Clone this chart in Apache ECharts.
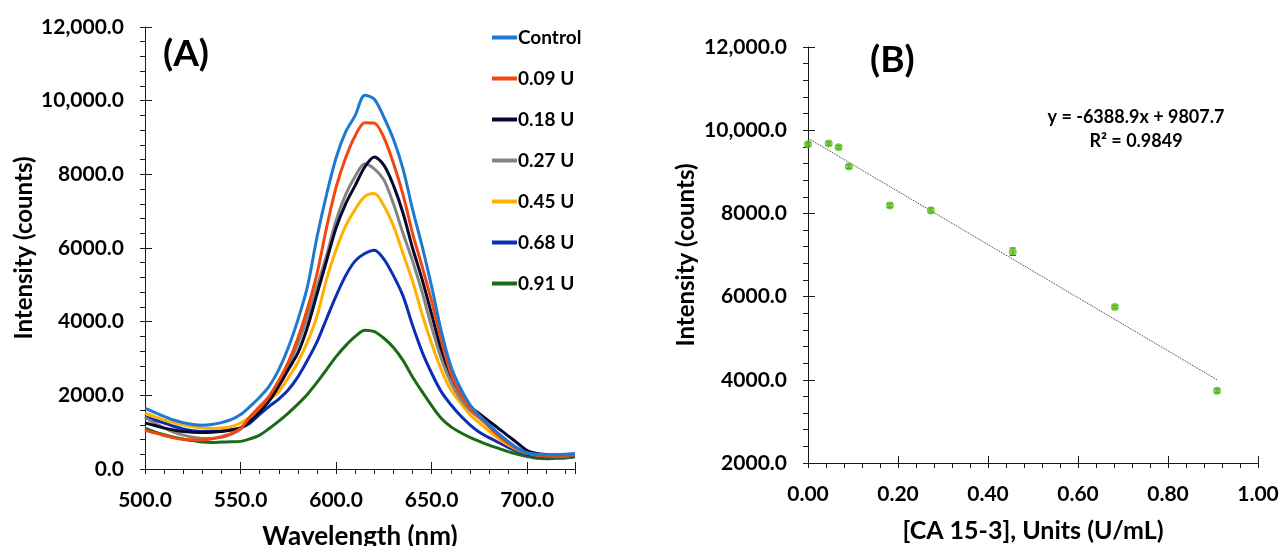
<!DOCTYPE html>
<html><head><meta charset="utf-8">
<script src="https://cdn.jsdelivr.net/npm/echarts@6/dist/echarts.min.js"></script>
<style>html,body{margin:0;padding:0;background:#fff}#c{width:1279px;height:546px}</style>
</head><body><div id="c"></div>
<script>
// ---------- Panel A data ----------
const wavelengths = [500,505,510,515,520,525,530,535,540,545,550,555,560,565,570,575,580,585,590,595,600,605,610,615,620,625,630,635,640,645,650,655,660,665,670,675,680,685,690,695,700,705,710,715,720,725];
const seriesNames = ['Control','0.09 U','0.18 U','0.27 U','0.45 U','0.68 U','0.91 U'];
const seriesColors = ['#1C7AD0','#F2470E','#08082E','#838383','#FFB000','#0A2FB4','#1C6A16'];
const control = [1650,1540,1430,1330,1260,1210,1190,1210,1260,1340,1480,1700,1950,2250,2700,3300,4050,4950,6300,7450,8450,9150,9600,10150,10040,9550,8950,8150,7050,6050,4950,3750,2800,2200,1750,1450,1200,960,750,560,440,400,390,390,400,420];
const u009 = [1060,980,910,850,810,790,790,820,880,960,1100,1420,1680,1980,2400,2900,3550,4350,5300,6550,7650,8450,9050,9400,9390,9000,8300,7450,6400,5500,4550,3500,2600,2050,1650,1400,1150,900,700,540,430,380,360,360,370,390];
const u018 = [1250,1180,1110,1060,1020,1000,990,1000,1020,1060,1120,1300,1550,1850,2250,2700,3150,3850,4750,5650,6550,7200,7700,8200,8470,8250,7700,6950,6000,5150,4200,3250,2550,2050,1700,1500,1300,1100,900,700,500,420,390,380,380,390];
const u027 = [1400,1250,1120,1000,920,860,830,830,860,940,1080,1400,1700,1950,2350,2800,3400,4120,4950,5800,6750,7450,7950,8290,8150,7850,7200,6400,5650,4800,3850,3000,2350,1900,1600,1380,1160,950,740,560,440,390,370,360,360,380];
const u045 = [1520,1420,1330,1260,1200,1150,1110,1100,1110,1150,1250,1420,1650,1880,2100,2480,2900,3450,4150,5150,5950,6600,7050,7400,7480,7150,6600,5850,5100,4200,3400,2700,2150,1800,1480,1250,1030,820,650,520,430,380,360,350,350,370];
const u068 = [1420,1330,1250,1160,1090,1040,1020,1020,1030,1060,1110,1250,1480,1700,1900,2150,2500,2950,3450,4080,4700,5250,5650,5850,5940,5700,5250,4700,3900,3180,2600,2100,1750,1450,1200,1000,850,720,590,480,400,360,340,330,330,350];
const u091 = [1110,1010,930,860,810,770,730,720,730,740,750,820,920,1100,1300,1520,1760,2030,2350,2700,3050,3350,3600,3770,3730,3550,3300,2950,2500,2100,1720,1380,1150,990,860,750,650,560,470,400,340,290,280,290,300,330];
const spectra = [control,u009,u018,u027,u045,u068,u091];
const leftXLabels = ['500.0','550.0','600.0','650.0','700.0'];
const leftYLabels = ['0.0','2000.0','4000.0','6000.0','8000.0','10,000.0','12,000.0'];

// ---------- Panel B data ----------
const concentrations = [0,0.046,0.068,0.091,0.182,0.273,0.455,0.682,0.909];
const intensities = [9663,9680,9591,9128,8192,8072,7078,5751,3735];
const errors = [40,40,40,50,50,60,90,40,50];
const slope = -6388.9, intercept = 9807.7, rSquared = 0.9849;
const fitRange = [0, 0.91];
const rightXLabels = ['0.00','0.20','0.40','0.60','0.80','1.00'];
const rightYLabels = ['2000.0','4000.0','6000.0','8000.0','10,000.0','12,000.0'];

const FONT = 'Lato';
const black = '#000';
const tickLabel = {color: black, fontFamily: FONT, fontWeight: 'bold', fontSize: 21};
const nameStyle = {color: black, fontFamily: FONT, fontWeight: 'bold'};

function isMult(v, step) { const r = v / step; return Math.abs(r - Math.round(r)) < 1e-6; }

function mainAxis(opts) {
  return Object.assign({
    type: 'value',
    axisLine: {show: true, onZero: false, lineStyle: {color: '#1a1a1a', width: 1}},
    axisTick: {show: true, length: 5, lineStyle: {color: '#1a1a1a', width: 1}},
    minorTick: {show: false},
    splitLine: {show: false},
    nameLocation: 'middle'
  }, opts);
}
function overlayAxis(opts) {
  return Object.assign({
    type: 'value',
    axisLine: {show: false},
    axisLabel: {show: false},
    axisTick: {show: true, inside: true, length: 7, lineStyle: {color: '#1a1a1a', width: 1}},
    splitLine: {show: false}
  }, opts);
}

const xAxis = [
  mainAxis({gridIndex: 0, position: 'bottom', min: 500, max: 725, interval: 10,
    axisLabel: Object.assign({margin: 21, formatter: v => isMult(v - 500, 50) ? (leftXLabels[Math.round((v - 500) / 50)] || '') : ''}, tickLabel),
    name: 'Wavelength (nm)', nameGap: 55, nameTextStyle: Object.assign({fontSize: 26}, nameStyle)}),
  overlayAxis({gridIndex: 0, position: 'bottom', min: 500, max: 725, interval: 50}),
  mainAxis({gridIndex: 1, position: 'bottom', min: 0, max: 1, interval: 0.04,
    axisLabel: Object.assign({margin: 21, formatter: v => isMult(v, 0.2) ? (rightXLabels[Math.round(v / 0.2)] || '') : ''}, tickLabel),
    name: '[CA 15-3], Units (U/mL)', nameGap: 55, nameTextStyle: Object.assign({fontSize: 25}, nameStyle)}),
  overlayAxis({gridIndex: 1, position: 'bottom', min: 0, max: 1, interval: 0.2})
];
const yAxis = [
  mainAxis({gridIndex: 0, position: 'left', min: 0, max: 12000, interval: 400,
    axisLabel: Object.assign({margin: 21, formatter: v => isMult(v, 2000) ? (leftYLabels[Math.round(v / 2000)] || '') : ''}, tickLabel),
    name: 'Intensity (counts)', nameGap: 109, nameTextStyle: Object.assign({fontSize: 24}, nameStyle)}),
  overlayAxis({gridIndex: 0, position: 'left', min: 0, max: 12000, interval: 2000}),
  mainAxis({gridIndex: 1, position: 'left', min: 2000, max: 12000, interval: 400,
    axisLabel: Object.assign({margin: 21, formatter: v => isMult(v - 2000, 2000) ? (rightYLabels[Math.round((v - 2000) / 2000)] || '') : ''}, tickLabel),
    name: 'Intensity (counts)', nameGap: 110, nameTextStyle: Object.assign({fontSize: 24}, nameStyle)}),
  overlayAxis({gridIndex: 1, position: 'left', min: 2000, max: 12000, interval: 2000})
];

const series = seriesNames.map((name, i) => ({
  name, type: 'line', xAxisIndex: 0, yAxisIndex: 0,
  data: wavelengths.map((w, j) => [w, spectra[i][j]]),
  symbol: 'none', smooth: 0.3,
  lineStyle: {color: seriesColors[i], width: 3},
  itemStyle: {color: seriesColors[i]},
  z: 10 - i
}));

series.push({
  name: 'fit', type: 'line', xAxisIndex: 2, yAxisIndex: 2,
  data: fitRange.map(x => [x, intercept + slope * x]),
  symbol: 'none', lineStyle: {color: '#333', width: 1, type: 'dotted'}, z: 2
});
series.push({
  name: 'err', type: 'custom', xAxisIndex: 2, yAxisIndex: 2,
  data: concentrations.map((c, i) => [c, intensities[i] - errors[i], intensities[i] + errors[i]]),
  renderItem: (params, api) => {
    const lo = api.coord([api.value(0), api.value(1)]);
    const hi = api.coord([api.value(0), api.value(2)]);
    const st = {stroke: '#333', lineWidth: 1};
    return {type: 'group', children: [
      {type: 'line', shape: {x1: lo[0], y1: lo[1], x2: hi[0], y2: hi[1]}, style: st},
      {type: 'line', shape: {x1: lo[0] - 3, y1: lo[1], x2: lo[0] + 3, y2: lo[1]}, style: st},
      {type: 'line', shape: {x1: hi[0] - 3, y1: hi[1], x2: hi[0] + 3, y2: hi[1]}, style: st}
    ]};
  }, z: 3
});
series.push({
  name: 'points', type: 'scatter', xAxisIndex: 2, yAxisIndex: 2,
  data: concentrations.map((c, i) => [c, intensities[i]]),
  symbolSize: 8, itemStyle: {color: '#5CC41C'}, z: 5
});

const chart = echarts.init(document.getElementById('c'), null, {renderer: 'canvas'});
chart.setOption({
  animation: false,
  backgroundColor: '#fff',
  textStyle: {fontFamily: FONT},
  grid: [
    {left: 145, top: 27, width: 430, height: 442, outerBoundsMode: 'none', containLabel: false},
    {left: 808, top: 47, width: 450, height: 416, outerBoundsMode: 'none', containLabel: false}
  ],
  xAxis, yAxis,
  legend: {
    data: seriesNames, orient: 'vertical', left: 487, top: 23,
    icon: 'rect', itemWidth: 25, itemHeight: 4, itemGap: 22,
    textStyle: {color: black, fontFamily: FONT, fontWeight: 'bold', fontSize: 19, lineHeight: 19, padding: [0, 0, 0, -4]}
  },
  title: [
    {text: '(A)', left: 158, top: 31, textStyle: {color: black, fontFamily: FONT, fontWeight: 'bold', fontSize: 37}},
    {text: '(B)', left: 865, top: 37, textStyle: {color: black, fontFamily: FONT, fontWeight: 'bold', fontSize: 37}},
    {text: 'y = ' + slope.toFixed(1) + 'x + ' + intercept.toFixed(1) + '\nR² = ' + rSquared.toFixed(4),
     left: 1131, top: 100, textAlign: 'center',
     textStyle: {color: black, fontFamily: FONT, fontWeight: 'bold', fontSize: 18, lineHeight: 24, align: 'center'}}
  ],
  series
});
</script>
</body></html>
